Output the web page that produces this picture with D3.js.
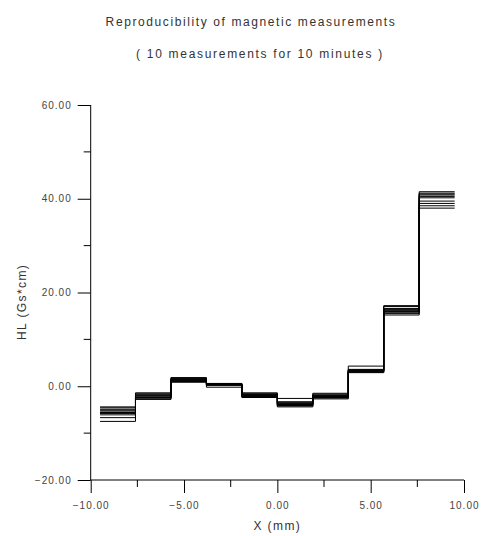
<!DOCTYPE html>
<html>
<head>
<meta charset="utf-8">
<style>
  body { margin: 0; background: #fff; }
  text { font-family: "Liberation Sans", Arial, sans-serif; }
</style>
</head>
<body>
<div id="container"></div>
<script src="https://cdn.jsdelivr.net/npm/d3@7"></script>
<script>
// bin edges along X (mm)
const edges = [-9.5, -7.6, -5.7, -3.8, -1.9, 0, 1.9, 3.8, 5.7, 7.6, 9.5];

// HL values per bin, one array per bin holding the 10 measurements
const bin1  = [-4.4, -4.6, -4.9, -5.1, -5.3, -5.6, -5.8, -6.1, -6.7, -7.5];
const bin2  = [-1.4, -1.6, -1.8, -2.0, -2.1, -2.3, -2.4, -2.5, -2.7, -2.8];
const bin3  = [1.85, 1.7, 1.6, 1.5, 1.4, 1.3, 1.2, 1.1, 1.0, 0.85];
const bin4  = [0.6, 0.55, 0.5, 0.45, 0.4, 0.35, 0.3, 0.25, 0.2, -0.2];
const bin5  = [-1.4, -1.6, -1.7, -1.8, -1.9, -2.0, -2.1, -2.2, -2.3, -2.4];
const bin6  = [-2.6, -3.3, -3.5, -3.7, -3.8, -3.9, -4.0, -4.1, -4.2, -4.4];
const bin7  = [-1.5, -1.7, -1.9, -2.0, -2.1, -2.2, -2.3, -2.4, -2.5, -2.7];
const bin8  = [4.3, 3.6, 3.5, 3.4, 3.3, 3.25, 3.2, 3.1, 3.0, 2.9];
const bin9  = [17.2, 17.0, 16.6, 16.4, 16.2, 16.0, 15.9, 15.8, 15.5, 15.2];
const bin10 = [41.5, 41.2, 41.0, 40.8, 40.5, 40.2, 39.5, 39.0, 38.5, 38.0];

const bins = [bin1, bin2, bin3, bin4, bin5, bin6, bin7, bin8, bin9, bin10];

const xTicks = [-10, -5, 0, 5, 10];
const yTicks = [-20, 0, 20, 40, 60];

const width = 496, height = 536;

const x = d3.scaleLinear().domain([-10, 10]).range([90.7, 464]);
const y = d3.scaleLinear().domain([-20, 60]).range([480, 105]);

const svg = d3.create("svg")
    .attr("width", width)
    .attr("height", height);

// title
svg.append("text")
    .attr("x", 251).attr("y", 26)
    .attr("text-anchor", "middle")
    .attr("font-size", 12).attr("letter-spacing", 1.6)
    .attr("fill", "#333")
    .text("Reproducibility of magnetic measurements");
svg.append("text")
    .attr("x", 260).attr("y", 58)
    .attr("text-anchor", "middle")
    .attr("font-size", 12).attr("letter-spacing", 1.7)
    .attr("fill", "#333")
    .text("( 10 measurements for 10 minutes )");

// axes
const xAxis = d3.axisBottom(x).tickValues(xTicks).tickSize(13).tickPadding(9)
    .tickFormat(d3.format(".2f"));
const yAxis = d3.axisLeft(y).tickValues(yTicks).tickSize(13).tickPadding(6)
    .tickFormat(d3.format(".2f"));

const gx = svg.append("g").attr("transform", `translate(0,${y(-20)})`).call(xAxis);
const gy = svg.append("g").attr("transform", `translate(${x(-10)},0)`).call(yAxis);

// minor ticks
gx.selectAll(".minor").data([-7.5, -2.5, 2.5, 7.5]).enter().append("line")
    .attr("x1", d => x(d)).attr("x2", d => x(d))
    .attr("y1", 0).attr("y2", 7).attr("stroke", "#000");
gy.selectAll(".minor").data([-10, 10, 30, 50]).enter().append("line")
    .attr("y1", d => y(d)).attr("y2", d => y(d))
    .attr("x1", 0).attr("x2", -7).attr("stroke", "#000");

[gx, gy].forEach(g => {
  g.select(".domain").attr("d", null);
  g.selectAll("text").attr("font-size", 10).attr("letter-spacing", 1)
      .attr("fill", "#444").attr("font-family", "Liberation Sans, Arial, sans-serif");
});
gx.append("line").attr("x1", x(-10)).attr("x2", x(10)).attr("stroke", "#000");
gy.append("line").attr("y1", y(-20)).attr("y2", y(60)).attr("stroke", "#000");

// axis labels
svg.append("text")
    .attr("x", x(0)).attr("y", 530)
    .attr("text-anchor", "middle")
    .attr("font-size", 12).attr("letter-spacing", 1.4)
    .attr("fill", "#333")
    .text("X (mm)");
svg.append("text")
    .attr("transform", `translate(26,${y(18)}) rotate(-90)`)
    .attr("text-anchor", "middle")
    .attr("font-size", 12).attr("letter-spacing", 1.4)
    .attr("fill", "#333")
    .text("HL (Gs*cm)");

// step lines, one per measurement
const series = d3.range(10).map(k => {
  const pts = bins.map((b, i) => [edges[i], b[k]]);
  pts.push([edges[edges.length - 1], bins[bins.length - 1][k]]);
  return pts;
});

const line = d3.line()
    .x(d => x(d[0]))
    .y(d => y(d[1]))
    .curve(d3.curveStepAfter);

svg.append("g").selectAll("path").data(series).enter().append("path")
    .attr("d", line)
    .attr("fill", "none")
    .attr("stroke", "#000")
    .attr("stroke-width", 1);

document.getElementById("container").append(svg.node());
</script>
</body>
</html>
